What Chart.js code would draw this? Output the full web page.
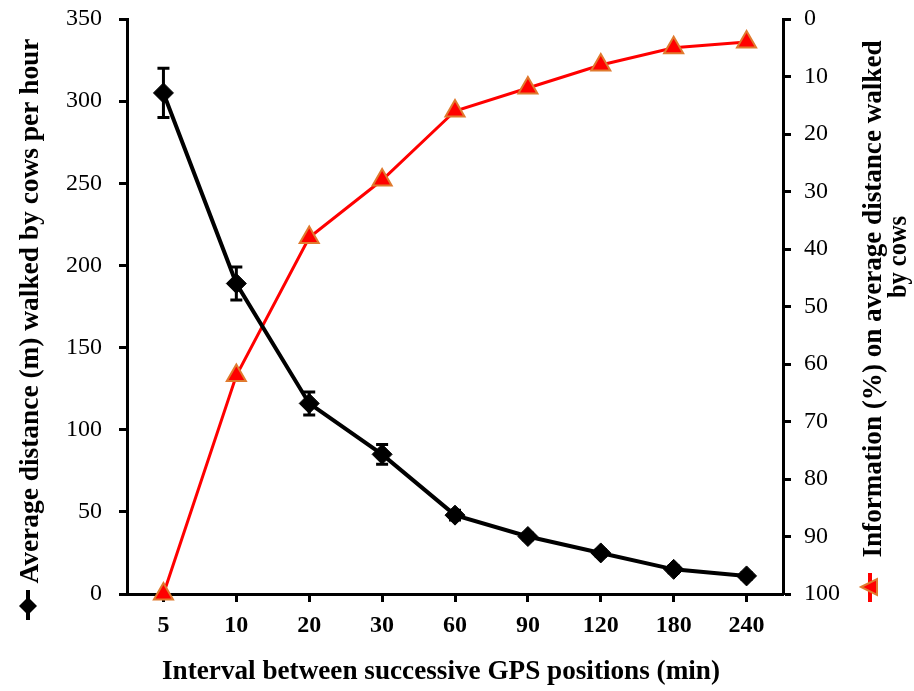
<!DOCTYPE html>
<html>
<head>
<meta charset="utf-8">
<script src="https://cdn.jsdelivr.net/npm/chart.js@4.4.1/dist/chart.umd.min.js"></script>
<style>
  html, body { margin: 0; padding: 0; background: #fff; }
</style>
</head>
<body>
<canvas id="gpsChart" width="914" height="691"></canvas>
<script>
// Data
const intervals = ['5', '10', '20', '30', '60', '90', '120', '180', '240'];
const distance = [305, 189, 116, 85, 48, 35, 25, 15, 11];
const distanceErr = [15, 10, 7, 6, 3, 2, 2, 2, 2];
const information = [100, 62, 38, 28, 16, 12, 8, 5, 4];

const SERIF = '"Liberation Serif", "Times New Roman", serif';

// draw text squeezed/stretched to a given length (the titles look condensed)
function fitText(ctx, text, x, y, rot, len, size) {
  ctx.save();
  ctx.translate(x, y);
  ctx.rotate(rot);
  ctx.font = 'bold ' + size + 'px ' + SERIF;
  const w = ctx.measureText(text).width;
  ctx.scale(len / w, 1);
  ctx.textAlign = 'center';
  ctx.textBaseline = 'middle';
  ctx.fillStyle = '#000';
  ctx.fillText(text, 0, 0);
  ctx.restore();
}

// Error bars on the distance series
const errorBars = {
  id: 'errorBars',
  afterDatasetsDraw(chart) {
    const { ctx } = chart;
    const xs = chart.scales.x, ys = chart.scales.y;
    ctx.save();
    ctx.strokeStyle = '#000';
    ctx.lineWidth = 3;
    distance.forEach((d, i) => {
      const x = xs.getPixelForValue(i);
      const t = ys.getPixelForValue(d + distanceErr[i]);
      const b = ys.getPixelForValue(d - distanceErr[i]);
      ctx.beginPath();
      ctx.moveTo(x, t); ctx.lineTo(x, b);
      ctx.moveTo(x - 6, t); ctx.lineTo(x + 6, t);
      ctx.moveTo(x - 6, b); ctx.lineTo(x + 6, b);
      ctx.stroke();
    });
    ctx.restore();
  }
};

// Axis titles with their series symbols
const axisTitles = {
  id: 'axisTitles',
  afterDraw(chart) {
    const { ctx } = chart;
    fitText(ctx, 'Average distance (m) walked by cows per hour', 31, 311, -Math.PI / 2, 545, 28);
    fitText(ctx, 'Information (%) on average distance walked', 874, 299, -Math.PI / 2, 517, 28);
    fitText(ctx, 'by cows', 899, 257, -Math.PI / 2, 82, 28);
    fitText(ctx, 'Interval between successive GPS positions (min)', 441, 672, 0, 558, 28);

    ctx.save();
    // black diamond marker
    ctx.strokeStyle = '#000';
    ctx.lineWidth = 4;
    ctx.beginPath(); ctx.moveTo(28, 590); ctx.lineTo(28, 620); ctx.stroke();
    ctx.fillStyle = '#000';
    ctx.beginPath();
    ctx.moveTo(28, 597); ctx.lineTo(37, 606); ctx.lineTo(28, 615); ctx.lineTo(19, 606);
    ctx.closePath(); ctx.fill();
    // red triangle marker
    ctx.strokeStyle = '#ff0000';
    ctx.beginPath(); ctx.moveTo(870, 573); ctx.lineTo(870, 602); ctx.stroke();
    ctx.fillStyle = '#ff0000';
    ctx.strokeStyle = '#e07a2e';
    ctx.lineWidth = 2;
    ctx.beginPath();
    ctx.moveTo(861, 587); ctx.lineTo(877, 579); ctx.lineTo(877, 595);
    ctx.closePath(); ctx.fill(); ctx.stroke();
    ctx.restore();
  }
};

const axisLine = { display: true, color: '#000', width: 3 };
const tickGrid = { display: true, drawOnChartArea: false, drawTicks: true, tickLength: 8, tickWidth: 3, color: '#000' };

// fixed widths for the side axes, and no extra room for the end labels
function sideFit(width) {
  return s => { s.width = width; s.paddingTop = 0; s.paddingBottom = 0; };
}

new Chart(document.getElementById('gpsChart'), {
  type: 'line',
  data: {
    labels: intervals,
    datasets: [
      {
        label: 'Average distance (m) walked by cows per hour',
        data: distance,
        yAxisID: 'y',
        borderColor: '#000',
        borderWidth: 4,
        backgroundColor: '#000',
        pointStyle: 'rectRot',
        pointRadius: 10,
        pointBorderWidth: 1,
        tension: 0,
        clip: false
      },
      {
        label: 'Information (%) on average distance walked by cows',
        data: information,
        yAxisID: 'y2',
        borderColor: '#ff0000',
        borderWidth: 3,
        pointBackgroundColor: '#ff0000',
        pointBorderColor: '#e07a2e',
        pointBorderWidth: 2,
        pointStyle: 'triangle',
        pointRadius: 11,
        tension: 0,
        clip: false
      }
    ]
  },
  options: {
    responsive: false,
    animation: false,
    layout: { padding: { top: 19 } },
    plugins: { legend: { display: false }, tooltip: { enabled: false } },
    scales: {
      x: {
        offset: true,
        z: 1,
        border: axisLine,
        grid: tickGrid,
        ticks: { color: '#000', padding: 9, maxRotation: 0, autoSkip: false,
                 font: { family: SERIF, size: 24, weight: 'bold' } },
        afterFit: s => { s.height = 97; }
      },
      y: {
        position: 'left',
        min: 0, max: 350,
        border: axisLine,
        grid: tickGrid,
        ticks: { stepSize: 50, color: '#000', padding: 17, font: { family: SERIF, size: 24 } },
        afterFit: sideFit(127)
      },
      y2: {
        position: 'right',
        reverse: true,
        min: 0, max: 100,
        border: axisLine,
        grid: tickGrid,
        ticks: { stepSize: 10, color: '#000', padding: 13, font: { family: SERIF, size: 24 } },
        afterFit: sideFit(131)
      }
    }
  },
  plugins: [errorBars, axisTitles]
});
</script>
</body>
</html>
